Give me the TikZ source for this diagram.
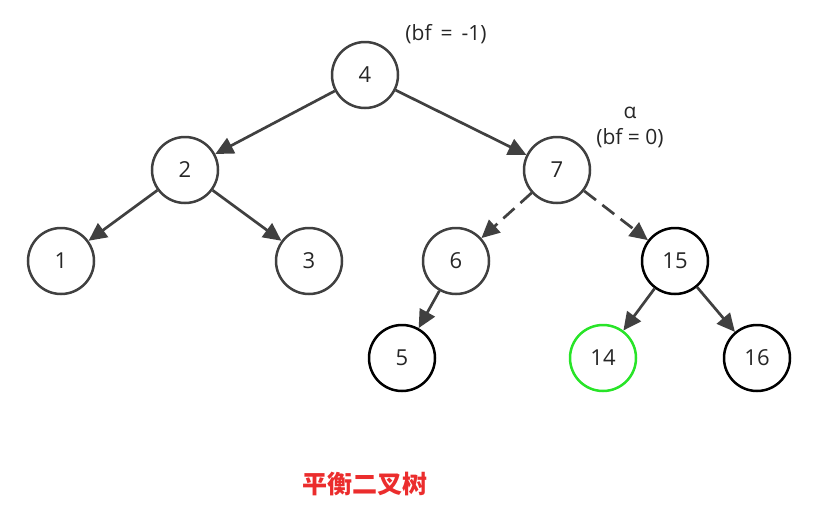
\documentclass[tikz,border=0pt]{standalone}
\usepackage{fontspec}
\setmainfont{Open Sans}
\newfontfamily\cjk{Noto Sans CJK SC}
\usetikzlibrary{arrows.meta}

\definecolor{newleaf}{RGB}{40,228,40}

\begin{document}
\begin{tikzpicture}[x=1pt, y=1pt,
    bnode/.style={circle, draw=#1, line width=2.5pt, minimum size=66pt, inner sep=0pt, font=\fontsize{22}{24}\selectfont, text=black!85},
    bnode/.default={black!75},
    link/.style={draw=black!75, line width=2.7pt, -{Triangle[length=18pt, width=17pt]}},
    lbl/.style={font=\fontsize{21}{23}\selectfont, text=black!85, inner sep=0pt}]

    \useasboundingbox (0,0) rectangle (817,-523);

    % upper levels
    \node[bnode] (n4) at (365,-75) {4};
    \node[bnode] (n2) at (185,-170) {2};
    \node[bnode] (n7) at (557,-170) {7};

    \node[bnode] (n1) at (61,-261) {1};
    \node[bnode] (n3) at (309,-261) {3};
    \node[bnode] (n6) at (456,-261) {6};
    \node[bnode=black] (n15) at (675,-261) {15};

    % bottom level
    \node[bnode=black] (n5) at (402,-358) {5};
    \node[bnode=newleaf] (n14) at (603,-358) {14};
    \node[bnode=black] (n16) at (757,-358) {16};

    \draw[link] (n4) -- (n2);
    \draw[link] (n4) -- (n7);
    \draw[link] (n2) -- (n1);
    \draw[link] (n2) -- (n3);
    \draw[link, dashed, dash pattern=on 15pt off 8pt] (n7) -- (n6);
    \draw[link, dashed, dash pattern=on 15pt off 8pt] (n7) -- (n15);
    \draw[link] (n6) -- (n5);
    \draw[link] (n15) -- (n14);
    \draw[link] (n15) -- (n16);

    % balance factors
    \node[lbl] (bf4) at (446,-34) {(bf \,=\, -1)};
    \node[lbl] (alpha) at (630,-113) {α};
    \node[lbl] (bf7) at (630,-138) {(bf = 0)};

    \node[font=\cjk\bfseries\fontsize{25}{27}\selectfont, text={rgb,255:red,235;green,45;blue,45}] (title) at (365,-484) {平衡二叉树};

\end{tikzpicture}
\end{document}
